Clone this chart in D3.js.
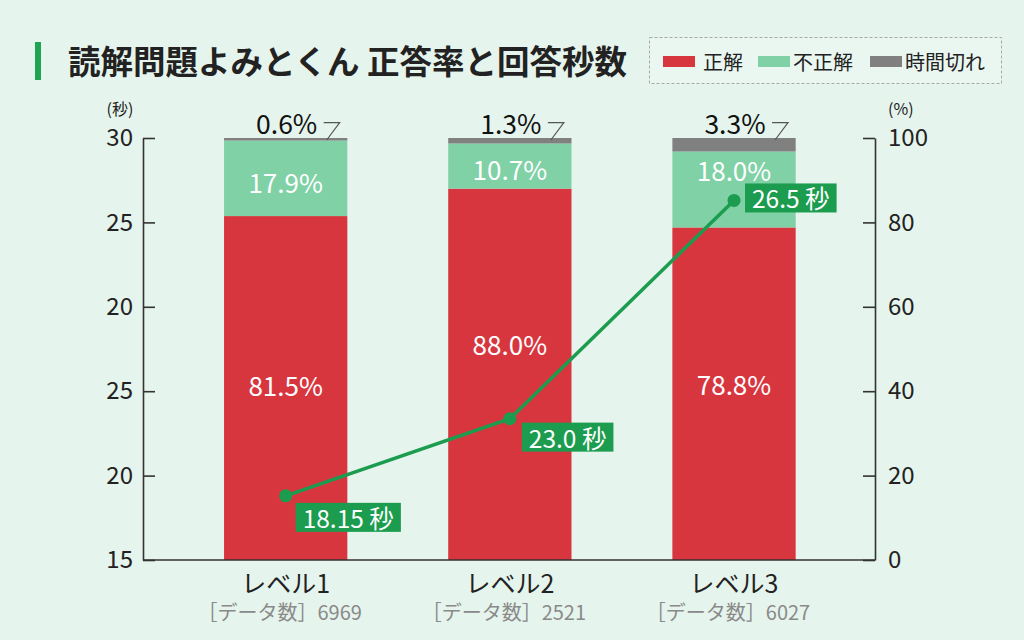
<!DOCTYPE html>
<html><head><meta charset="utf-8">
<script src="https://cdn.jsdelivr.net/npm/d3@7"></script>
<style>
html,body{margin:0;padding:0;background:#e5f4ec;}
svg{display:block;font-family:"Noto Sans CJK JP","Noto Sans",sans-serif;}
</style></head>
<body>
<svg id="c" width="1024" height="640"></svg>
<script>
// ---- data ----
const title = "読解問題よみとくん 正答率と回答秒数";
const categories = ["レベル1", "レベル2", "レベル3"];
const dataCounts = ["6969", "2521", "6027"];
const seriesNames = ["正解", "不正解", "時間切れ"];
const correctPct = [81.5, 88.0, 78.8];
const incorrectPct = [17.9, 10.7, 18.0];
const timeoutPct = [0.6, 1.3, 3.3];
const secondsValues = ["18.15", "23.0", "26.5"];
// plotted height of each seconds point, read on the right (%) axis
const secondsPlotPct = [15.2, 33.5, 85.2];
const leftTickLabels = ["15", "20", "25", "20", "25", "30"];
const rightTicks = [0, 20, 40, 60, 80, 100];

// ---- styling ----
const colors = ["#d8363f", "#80d1a6", "#808080"];
const lineColor = "#1b9c4e";
const FONT = '"Noto Sans CJK JP","Noto Sans",sans-serif';
const svg = d3.select("#c");
svg.append("rect").attr("width",1024).attr("height",640).attr("fill","#e5f4ec");

const X0 = 143, X1 = 875, Y0 = 560, Y1 = 138;
const x = d3.scaleBand().domain(categories)
  .range([285.7 - 112.1, 734 + 112.1]).paddingInner(0.45).paddingOuter(0.225);
const y = d3.scaleLinear().domain([0,100]).range([Y0, Y1]);
const yLeft = d3.scaleLinear().domain([0, leftTickLabels.length-1]).range([Y0, Y1]);

// title
svg.append("rect").attr("x",35).attr("y",42).attr("width",6).attr("height",38).attr("fill","#1ea552");
svg.append("text").attr("x",68).attr("y",59).attr("dominant-baseline","central")
  .attr("font-size",32.5).attr("font-weight",700).attr("fill","#222").text(title);

// legend
const lg = svg.append("g");
lg.append("rect").attr("x",649.5).attr("y",37.5).attr("width",352).attr("height",46)
  .attr("fill","#eaf7f0").attr("stroke","#a8a8a8").attr("stroke-width",1).attr("stroke-dasharray","3,2");
const legendX = [663, 758, 870];
seriesNames.forEach((n,i)=>{
  lg.append("rect").attr("x",legendX[i]).attr("y",56).attr("width",32).attr("height",11).attr("fill",colors[i]);
  lg.append("text").attr("x",legendX[i] + (i===0?40:35)).attr("y",61.5).attr("dominant-baseline","central")
    .attr("font-size",20).attr("fill","#222").text(n);
});

// bars
const stacks = categories.map((c,i)=>{
  const v=[correctPct[i], incorrectPct[i], timeoutPct[i]];
  let acc=0; return v.map((val,k)=>{const s={cat:c,k,y0:acc,y1:acc+val,val}; acc+=val; return s;});
});
const barG = svg.append("g");
stacks.forEach(st=>{
  barG.selectAll(null).data(st).enter().append("rect")
    .attr("x",d=>x(d.cat)).attr("width",x.bandwidth())
    .attr("y",d=>y(Math.min(d.y1,100))).attr("height",d=>y(d.y0)-y(Math.min(d.y1,100)))
    .attr("fill",d=>colors[d.k]);
});

// axes
const axL = svg.append("g").attr("transform",`translate(${X0},0)`)
  .call(d3.axisLeft(yLeft).tickValues(d3.range(leftTickLabels.length))
    .tickFormat(i=>leftTickLabels[i]).tickSizeInner(-12).tickSizeOuter(0).tickPadding(10));
const axR = svg.append("g").attr("transform",`translate(${X1},0)`)
  .call(d3.axisRight(y).tickValues(rightTicks).tickSizeInner(-12).tickSizeOuter(0).tickPadding(13));
[axL,axR].forEach(a=>{
  a.selectAll("path,line").attr("stroke","#333").attr("stroke-width",1.6);
  a.selectAll("text").attr("font-size",24).attr("fill","#222").attr("font-family",FONT);
});
svg.append("line").attr("x1",X0).attr("x2",X1).attr("y1",Y0).attr("y2",Y0).attr("stroke","#333").attr("stroke-width",1.6);
svg.append("text").attr("x",120).attr("y",108).attr("text-anchor","middle").attr("dominant-baseline","central")
  .attr("font-size",16).attr("fill","#222").text("(秒)");
svg.append("text").attr("x",888).attr("y",108).attr("dominant-baseline","central")
  .attr("font-size",16).attr("fill","#222").text("(%)");

// x labels
categories.forEach((c,i)=>{
  const cx = x(c)+x.bandwidth()/2;
  svg.append("text").attr("x",cx).attr("y",582).attr("text-anchor","middle").attr("dominant-baseline","central")
    .attr("font-size",25).attr("fill","#222").text(c);
  svg.append("text").attr("x",cx-6).attr("y",611).attr("text-anchor","middle").attr("dominant-baseline","central")
    .attr("font-size",20).attr("fill","#8a8a8a").text("［データ数］" + dataCounts[i]);
});

// percentage labels
const redNudge=[-4,-31,-10], greenNudge=[3,2,-20];
stacks.forEach((st,i)=>{
  const cx = x(st[0].cat)+x.bandwidth()/2;
  const fmt = v=>v.toFixed(1)+"%";
  svg.append("text").attr("x",cx).attr("y",(y(st[0].y0)+y(st[0].y1))/2+redNudge[i])
    .attr("text-anchor","middle").attr("dominant-baseline","central").attr("font-size",26).attr("fill","#fff").text(fmt(st[0].val));
  svg.append("text").attr("x",cx).attr("y",(y(st[1].y0)+y(st[1].y1))/2+greenNudge[i])
    .attr("text-anchor","middle").attr("dominant-baseline","central").attr("font-size",26).attr("fill","#fff").text(fmt(st[1].val));
  svg.append("text").attr("x",cx+1).attr("y",122.5)
    .attr("text-anchor","middle").attr("dominant-baseline","central").attr("font-size",26.5).attr("fill","#111").text(fmt(st[2].val));
  svg.append("path").attr("d",`M${cx+38},122.7 H${cx+54} L${cx+41},${y(100)+2}`)
    .attr("fill","none").attr("stroke","#555").attr("stroke-width",1.2);
});

// seconds line
const pts = categories.map((c,i)=>({x:x(c)+x.bandwidth()/2, y:y(secondsPlotPct[i]), v:secondsValues[i]}));
svg.append("path").datum(pts).attr("d",d3.line().x(d=>d.x).y(d=>d.y))
  .attr("fill","none").attr("stroke",lineColor).attr("stroke-width",3.5);
svg.selectAll(null).data(pts).enter().append("circle")
  .attr("cx",d=>d.x).attr("cy",d=>d.y).attr("r",6.5).attr("fill",lineColor);
const boxDx=[10,12,11], boxDy=[7,4,-17];
pts.forEach((p,i)=>{
  const g = svg.append("g");
  const t = g.append("text").attr("x",p.x+boxDx[i]+7).attr("y",p.y+boxDy[i]+14.5)
    .attr("dominant-baseline","central").attr("font-size",24.5).attr("fill","#fff").text(p.v+" 秒");
  const bb = t.node().getBBox();
  g.insert("rect","text").attr("x",p.x+boxDx[i]).attr("y",p.y+boxDy[i])
    .attr("width",bb.width+14).attr("height",29).attr("fill",lineColor);
});
</script>
</body></html>
